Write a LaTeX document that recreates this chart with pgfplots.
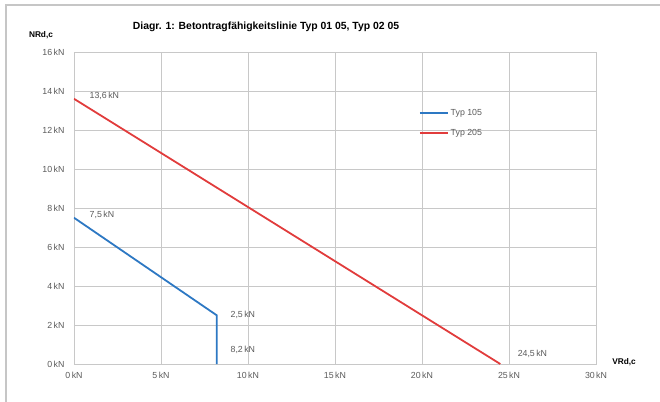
\documentclass[border=0pt]{standalone}
\usepackage{pgfplots}
\pgfplotsset{compat=1.18}
\usepackage{fontspec}
\setmainfont{Liberation Sans}
\definecolor{typblau}{RGB}{45,120,195}
\definecolor{typrot}{RGB}{225,60,60}
\definecolor{gitter}{RGB}{200,200,200}
\definecolor{schrift}{RGB}{90,90,90}
\begin{document}
\begin{tikzpicture}[x=1pt,y=1pt]
\useasboundingbox (-74,-37) rectangle (586,364);
\draw[gray!45, line width=1.2pt] (-68,-40) -- (-68,359) -- (590,359);
\begin{axis}[
    at={(0,0)}, anchor=south west,
    scale only axis, width=522pt, height=312pt,
    xmin=0, xmax=30, ymin=0, ymax=16,
    xtick={0,5,...,30}, ytick={0,2,...,16},
    grid=major, grid style={gitter, line width=0.8pt},
    axis line style={gitter, line width=0.8pt},
    tick style={draw=none},
    /pgf/number format/assume math mode=true,
    ticklabel style={font=\fontsize{8.8}{10}\selectfont, text=schrift},
    xticklabel={\pgfmathprintnumber{\tick}\,kN},
    yticklabel={\pgfmathprintnumber{\tick}\,kN},
    xticklabel style={yshift=-5pt},
    yticklabel style={xshift=-6pt},
    legend style={draw=none, fill=none, at={(0.655,0.83)}, anchor=north west,
        font=\fontsize{8.8}{10}\selectfont, text=schrift, row sep=8pt},
    legend cell align=left,
    legend image code/.code={\draw[#1, line width=1.6pt] (0pt,0pt) -- (28pt,0pt);},
]
\addplot[typblau, line width=1.8pt] coordinates {(0,7.5) (8.2,2.5) (8.2,0)};
\addlegendentry{Typ 105}
\addplot[typrot, line width=1.8pt] coordinates {(0,13.6) (24.5,0)};
\addlegendentry{Typ 205}
\begin{scope}[every node/.style={font=\fontsize{8.8}{10}\selectfont, text=schrift, anchor=west}]
\node at (axis cs:0.7,13.75) {13,6\,kN};
\node at (axis cs:0.7,7.65) {7,5\,kN};
\node at (axis cs:8.8,2.5) {2,5\,kN};
\node at (axis cs:8.8,0.7) {8,2\,kN};
\node at (axis cs:25.3,0.5) {24,5\,kN};
\end{scope}
\end{axis}
\node[font=\bfseries\fontsize{10.4}{12}\selectfont] at (192,337) {Diagr. 1: Betontragfähigkeitslinie Typ 01 05, Typ 02 05};
\node[font=\bfseries\fontsize{8.3}{10}\selectfont] at (-33,329) {NRd,c};
\node[font=\bfseries\fontsize{8.3}{10}\selectfont] at (550,2) {VRd,c};
\end{tikzpicture}
\end{document}
